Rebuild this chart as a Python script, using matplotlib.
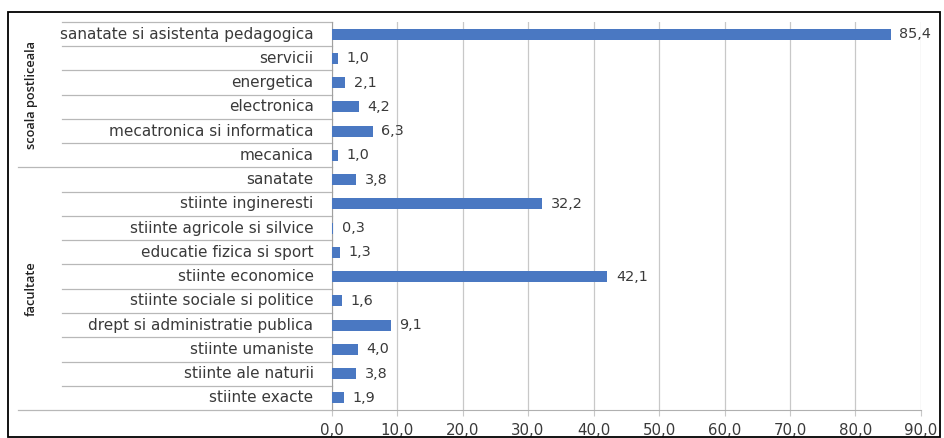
import matplotlib
matplotlib.use("Agg")
from matplotlib import pyplot as plt
from matplotlib.transforms import blended_transform_factory
from matplotlib.patches import Rectangle

# categorii de sus in jos
categorii = ["sanatate si asistenta pedagogica", "servicii", "energetica",
             "electronica", "mecatronica si informatica", "mecanica",
             "sanatate", "stiinte ingineresti", "stiinte agricole si silvice",
             "educatie fizica si sport", "stiinte economice",
             "stiinte sociale si politice", "drept si administratie publica",
             "stiinte umaniste", "stiinte ale naturii", "stiinte exacte"]
valori = [85.4, 1.0, 2.1, 4.2, 6.3, 1.0,
          3.8, 32.2, 0.3, 1.3, 42.1, 1.6, 9.1, 4.0, 3.8, 1.9]
grupuri = [("scoala postliceala", 6), ("facultate", 10)]
xticks = [0, 10, 20, 30, 40, 50, 60, 70, 80, 90]

plt.rcParams['font.family'] = ['DejaVu Sans']
text_col = "#3a3a3a"

fig = plt.figure(figsize=(9.44, 4.38), dpi=100)
ax = fig.add_axes([331.5 / 944, 0.0639, 589.5 / 944, 0.886])

n = len(categorii)
y = [n - 1 - i for i in range(n)]
ax.barh(y, valori, height=0.45, color="#4a78c2", zorder=3)
for yi, v in zip(y, valori):
    ax.text(v + 1.3, yi, f"{v:.1f}".replace(".", ","), va="center", ha="left",
            fontsize=10.4, color=text_col)

ax.set_xlim(0, 90)
ax.set_ylim(-0.5, n - 0.5)
ax.set_xticks(xticks)
ax.set_xticklabels([f"{t:.1f}".replace(".", ",") for t in xticks],
                   fontsize=10.8, color=text_col)
ax.set_yticks([])
ax.grid(axis="x", color="#c8c8c8", linewidth=0.9, zorder=0)
ax.tick_params(axis="x", length=4, color="#c8c8c8", pad=5)
for s in ["top", "right"]:
    ax.spines[s].set_visible(False)
ax.spines["left"].set_color("#a0a0a0")
ax.spines["bottom"].set_color("#b0b0b0")

# etichete categorii si separatoare
tr = blended_transform_factory(fig.transFigure, ax.transData)
x_ax = 331.5 / 944
for yi, c in zip(y, categorii):
    ax.text(x_ax - 18 / 944, yi, c, transform=tr, ha="right", va="center",
            fontsize=11, color=text_col)
for k in range(n + 1):
    yb = k - 0.5
    x0 = 62 / 944
    if k == 0 or k == grupuri[1][1]:
        x0 = 18 / 944
    ax.plot([x0, x_ax], [yb, yb], transform=tr, color="#b8b8b8",
            linewidth=0.9, clip_on=False)

# etichete grupuri
top = n - 0.5
for nume, cnt in grupuri:
    ax.text(31 / 944, top - cnt / 2, nume, transform=tr, rotation=90,
            ha="center", va="center", fontsize=9.2, color="#202020",
            family="Open Sans", fontweight="semibold")
    top -= cnt

fig.add_artist(Rectangle((8 / 944, 1 / 438), 932 / 944, 425 / 438,
                         transform=fig.transFigure, fill=False,
                         edgecolor="black", linewidth=1.3))

fig.savefig("out.png", dpi=100)
